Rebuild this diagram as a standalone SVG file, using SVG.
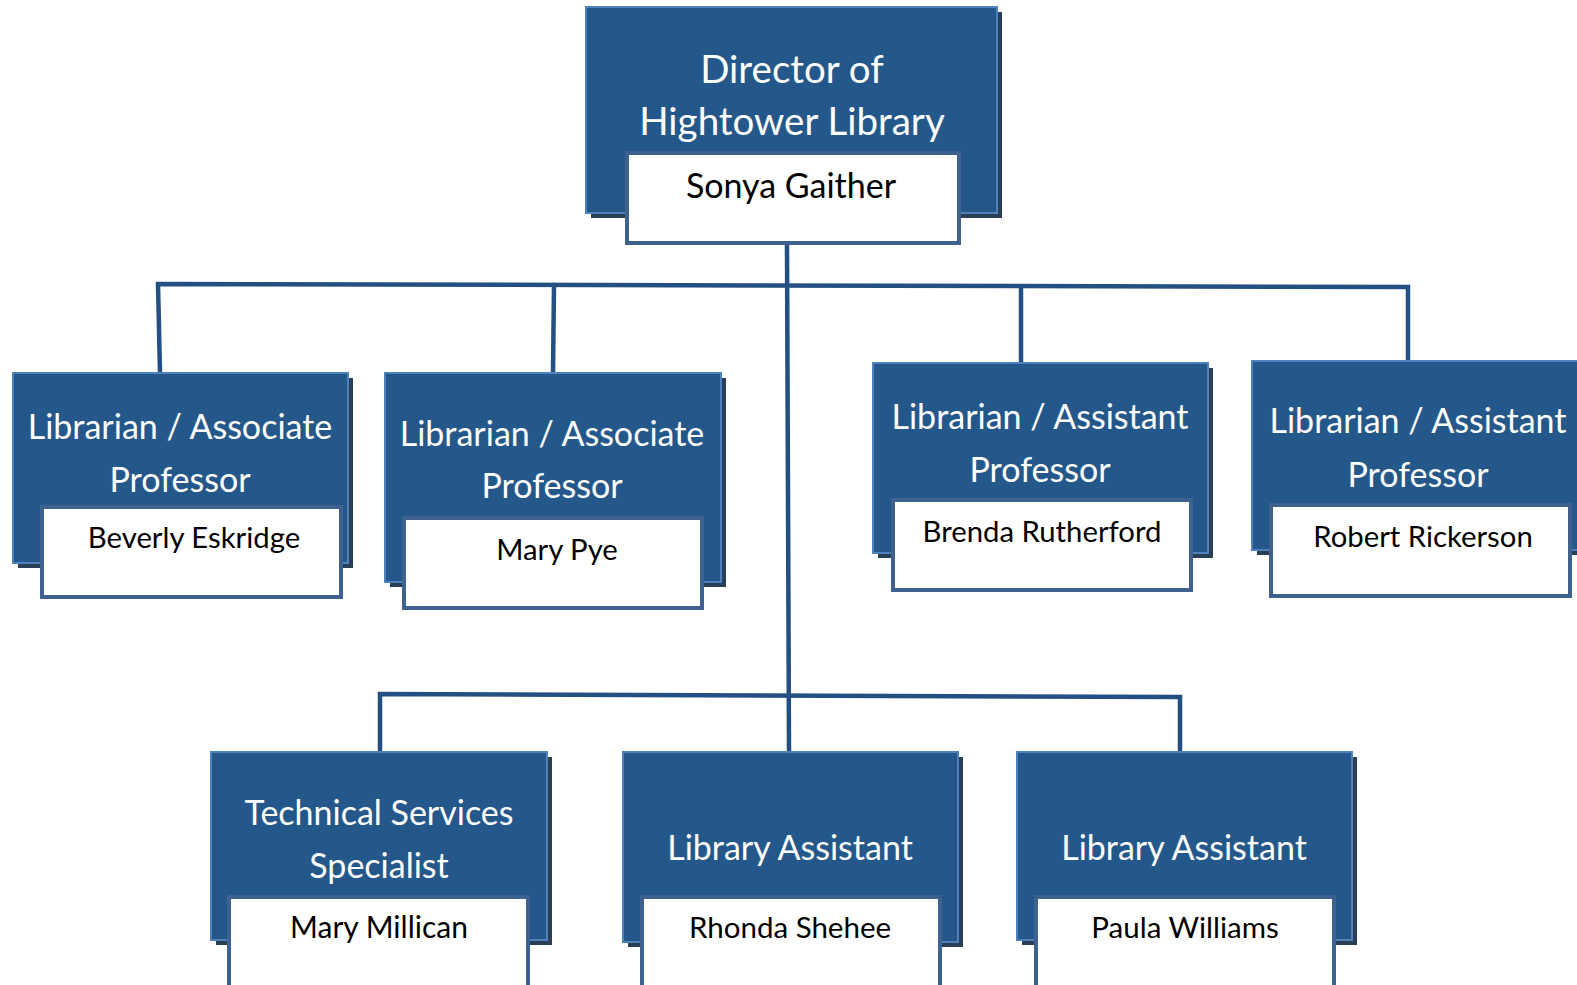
<svg xmlns="http://www.w3.org/2000/svg" width="1577" height="985" viewBox="0 0 1577 985">
<style>
.sh{fill:#2a3f55}
.bl{fill:#25588a;stroke:#4f81bd;stroke-width:2}
.wh{fill:#ffffff;stroke:#3f6190;stroke-width:4}
.t{font-family:Lato,"Open Sans",sans-serif;fill:#ffffff;text-anchor:middle}
.n{font-family:Lato,"Open Sans",sans-serif;fill:#000000;text-anchor:middle}
.c{fill:none;stroke:#244f82;stroke-width:4.5}
</style>
<rect width="1577" height="985" fill="#ffffff"/>
<g id="connectors">
<polyline class="c" points="787,245 789,752"/>
<polyline class="c" points="160,373 158,284 1408,287 1408,361"/>
<polyline class="c" points="554,286 553,373"/>
<polyline class="c" points="1021,287 1021,363"/>
<polyline class="c" points="380,752 380,694 1180,697 1180,752"/>
</g>
<g id="director">
<rect class="sh" x="591" y="12" width="411" height="206"/>
<rect class="bl" x="586" y="7" width="411" height="206"/>
<text class="t" x="792" y="83" font-size="38.5">Director of</text>
<text class="t" x="792" y="135" font-size="38.5">Hightower Library</text>
<rect class="wh" x="627" y="153" width="332" height="90"/>
<text class="n" x="791" y="198" font-size="34">Sonya Gaither</text>
</g>
<g id="beverly">
<rect class="sh" x="18" y="378" width="335" height="190"/>
<rect class="bl" x="13" y="373" width="335" height="190"/>
<text class="t" x="180" y="439" font-size="34">Librarian / Associate</text>
<text class="t" x="180" y="492" font-size="34">Professor</text>
<rect class="wh" x="42" y="507" width="299" height="90"/>
<text class="n" x="194" y="548" font-size="29.3">Beverly Eskridge</text>
</g>
<g id="marypye">
<rect class="sh" x="390" y="378" width="336" height="209"/>
<rect class="bl" x="385" y="373" width="336" height="209"/>
<text class="t" x="552" y="446" font-size="34">Librarian / Associate</text>
<text class="t" x="552" y="498" font-size="34">Professor</text>
<rect class="wh" x="404" y="518" width="298" height="90"/>
<text class="n" x="557" y="560" font-size="29.3">Mary Pye</text>
</g>
<g id="brenda">
<rect class="sh" x="878" y="368" width="335" height="190"/>
<rect class="bl" x="873" y="363" width="335" height="190"/>
<text class="t" x="1040" y="429" font-size="34">Librarian / Assistant</text>
<text class="t" x="1040" y="482" font-size="34">Professor</text>
<rect class="wh" x="893" y="500" width="298" height="90"/>
<text class="n" x="1042" y="542" font-size="29.3">Brenda Rutherford</text>
</g>
<g id="robert">
<rect class="sh" x="1257" y="366" width="335" height="189"/>
<rect class="bl" x="1252" y="361" width="335" height="189"/>
<text class="t" x="1418" y="433" font-size="34">Librarian / Assistant</text>
<text class="t" x="1418" y="487" font-size="34">Professor</text>
<rect class="wh" x="1271" y="505" width="299" height="91"/>
<text class="n" x="1423" y="547" font-size="29.3">Robert Rickerson</text>
</g>
<g id="marymillican">
<rect class="sh" x="216" y="757" width="336" height="188"/>
<rect class="bl" x="211" y="752" width="336" height="188"/>
<text class="t" x="379" y="825" font-size="34">Technical Services</text>
<text class="t" x="379" y="878" font-size="34">Specialist</text>
<rect class="wh" x="229" y="897" width="299" height="100"/>
<text class="n" x="379" y="938" font-size="30">Mary Millican</text>
</g>
<g id="rhonda">
<rect class="sh" x="628" y="757" width="335" height="190"/>
<rect class="bl" x="623" y="752" width="335" height="190"/>
<text class="t" x="790" y="860" font-size="34">Library Assistant</text>
<rect class="wh" x="642" y="897" width="298" height="100"/>
<text class="n" x="790" y="938" font-size="29.5">Rhonda Shehee</text>
</g>
<g id="paula">
<rect class="sh" x="1022" y="757" width="335" height="188"/>
<rect class="bl" x="1017" y="752" width="335" height="188"/>
<text class="t" x="1184" y="860" font-size="34">Library Assistant</text>
<rect class="wh" x="1036" y="897" width="298" height="100"/>
<text class="n" x="1185" y="938" font-size="29.5">Paula Williams</text>
</g>
</svg>
